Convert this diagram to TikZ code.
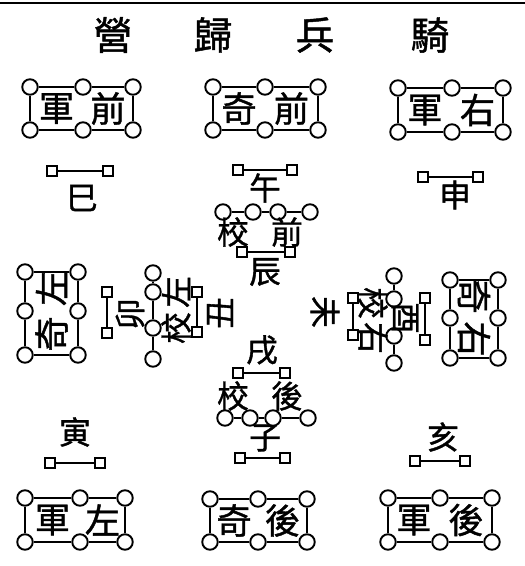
\documentclass[tikz,border=0pt]{standalone}
\usepackage{fontspec}
\newfontfamily\cjk[FakeBold=1.2]{Noto Sans CJK TC}

\begin{document}
\begin{tikzpicture}[x=0.02cm,y=-0.02cm,line width=1.1pt,
  ring/.style={circle,draw,fill=white,inner sep=0pt,minimum size=0.31cm},
  flag/.style={rectangle,draw,fill=white,inner sep=0pt,minimum size=0.19cm},
  zi/.style={font=\cjk\fontsize{20}{20}\selectfont,inner sep=0pt},
  lab/.style={font=\cjk\fontsize{18}{18}\selectfont,inner sep=0pt},
  ttl/.style={font=\cjk\fontsize{22}{22}\selectfont,inner sep=0pt}]
\useasboundingbox (0,0) rectangle (525,566);
\coordinate (edgeL) at (0,3);
\coordinate (edgeR) at (525,3);
\draw[line width=1.6pt] (edgeL) -- (edgeR);
% title
\foreach \x/\t in {113/營,213/歸,315/兵,430/騎}
  \node[ttl] (title\x) at (\x,35) {\t};
% camps, lying
\foreach \n/\xa/\xb/\xc/\ya/\yb/\l/\r in {
    qj/30/83/133/87/130/軍/前, qq/213/265/318/87/130/奇/前,
    yj/398/452/503/88/132/軍/右, zj/25/80/125/498/542/軍/左,
    hq/210/258/307/499/542/奇/後, hj/388/440/492/498/542/軍/後}{
  \node[ring] (\n1) at (\xa,\ya) {};
  \node[ring] (\n2) at (\xb,\ya) {};
  \node[ring] (\n3) at (\xc,\ya) {};
  \node[ring] (\n4) at (\xa,\yb) {};
  \node[ring] (\n5) at (\xb,\yb) {};
  \node[ring] (\n6) at (\xc,\yb) {};
  \draw (\n1) -- (\n2) -- (\n3) -- (\n6) -- (\n5) -- (\n4) -- (\n1);
  \node[zi] (\n l) at ({(\xa+\xb)/2},{(\ya+\yb)/2}) {\l};
  \node[zi] (\n r) at ({(\xb+\xc)/2},{(\ya+\yb)/2}) {\r};
}
% camps, standing
\foreach \n/\xa/\xc/\ya/\yb/\yc/\rot/\u/\d in {
    zq/25/78/272/311/355/90/左/奇, yq/450/498/280/318/358/-90/奇/右}{
  \node[ring] (\n1) at (\xa,\ya) {};
  \node[ring] (\n2) at (\xc,\ya) {};
  \node[ring] (\n3) at (\xa,\yb) {};
  \node[ring] (\n4) at (\xc,\yb) {};
  \node[ring] (\n5) at (\xa,\yc) {};
  \node[ring] (\n6) at (\xc,\yc) {};
  \draw (\n1) -- (\n2) -- (\n4) -- (\n6) -- (\n5) -- (\n3) -- (\n1);
  \node[zi,rotate=\rot] (\n u) at ({(\xa+\xc)/2},{(\ya+\yb)/2-3}) {\u};
  \node[zi,rotate=\rot] (\n d) at ({(\xa+\xc)/2},{(\yb+\yc)/2+1}) {\d};
}
% hours
\foreach \n/\xa/\xb/\y in {
    si/52/108/171, wu/238/292/170, shen/423/478/177,
    chen/242/290/252, xu/238/285/373, zi/240/285/458,
    yin/50/100/463, hai/415/465/461}{
  \node[flag] (\n a) at (\xa,\y) {};
  \node[flag] (\n b) at (\xb,\y) {};
  \draw (\n a) -- (\n b);
}
\node[lab] (siT) at (82,198) {巳};
\node[lab] (wuT) at (265,188) {午};
\node[lab] (shenT) at (455,195) {申};
\node[lab] (chenT) at (265,272) {辰};
\node[lab] (xuT) at (262,350) {戌};
\node[lab] (ziT) at (265,438) {子};
\node[lab] (yinT) at (75,432) {寅};
\node[lab] (haiT) at (443,437) {亥};
% front and rear wings
\foreach \n/\y/\xa/\xb/\xc/\xd/\ty/\r in {
    qx/212/223/253/278/310/232/前, hx/418/225/250/273/308/396/後}{
  \node[ring] (\n1) at (\xa,\y) {};
  \node[ring] (\n2) at (\xb,\y) {};
  \node[ring] (\n3) at (\xc,\y) {};
  \node[ring] (\n4) at (\xd,\y) {};
  \draw (\n1) -- (\n2) -- (\n3) -- (\n4);
  \node[lab] (\n l) at (233,\ty) {校};
  \node[lab] (\n r) at (287,\ty) {\r};
}
% left wing
\foreach \i/\y in {1/273,2/292,3/328,4/359}
  \node[ring] (zx\i) at (153,\y) {};
\draw (zx1) -- (zx2) -- (zx3) -- (zx4);
\node[flag] (maoa) at (107,292) {};
\node[flag] (maob) at (107,333) {};
\node[flag] (choua) at (197,292) {};
\node[flag] (choub) at (197,332) {};
\draw (maoa) -- (maob);
\draw (choua) -- (choub);
\node[lab,rotate=90] (maoT) at (130,314) {卯};
\node[lab,rotate=90] (zxu) at (176,292) {左};
\node[lab,rotate=90] (zxd) at (176,328) {校};
\node[lab,rotate=90] (chouT) at (220,313) {丑};
% right wing
\foreach \i/\y in {1/276,2/299,3/336,4/363}
  \node[ring] (yx\i) at (394,\y) {};
\draw (yx1) -- (yx2) -- (yx3) -- (yx4);
\node[flag] (weia) at (353,298) {};
\node[flag] (weib) at (353,335) {};
\node[flag] (youa) at (425,298) {};
\node[flag] (youb) at (425,340) {};
\draw (weia) -- (weib);
\draw (youa) -- (youb);
\node[lab,rotate=-90] (weiT) at (325,312) {未};
\node[lab,rotate=-90] (yxu) at (373,303) {校};
\node[lab,rotate=-90] (yxd) at (373,338) {右};
\node[lab,rotate=-90] (youT) at (405,318) {酉};
\end{tikzpicture}
\end{document}
